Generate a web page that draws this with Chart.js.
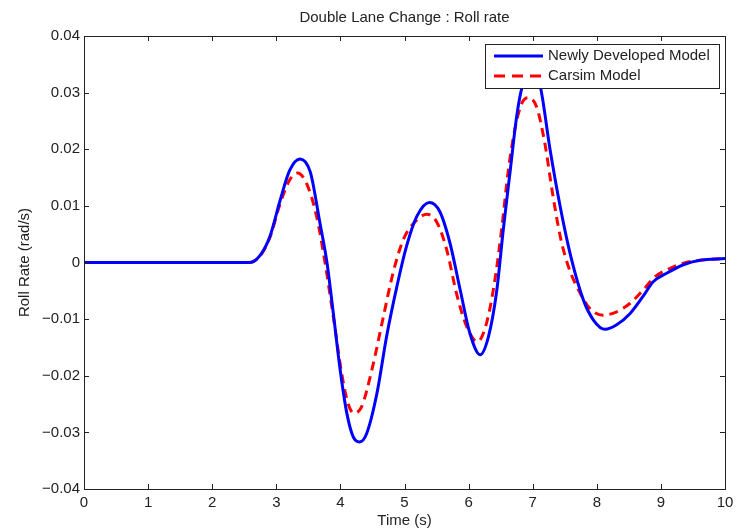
<!DOCTYPE html>
<html>
<head>
<meta charset="utf-8">
<script src="https://cdn.jsdelivr.net/npm/chart.js@4/dist/chart.umd.min.js"></script>
<style>
  html, body { margin: 0; padding: 0; background: #fff; }
  #wrap { width: 739px; height: 530px; }
</style>
</head>
<body>
<div id="wrap"><canvas id="rollRate" width="739" height="530"></canvas></div>
<script>
// roll rate samples (time in s, rate in rad/s)
const newModelTime = [0, 1, 2, 2.5, 2.59, 2.75, 2.9, 3.06, 3.21, 3.37, 3.53, 3.68, 3.79, 3.89, 3.99, 4.1, 4.2, 4.3, 4.41, 4.57, 4.72, 4.88, 5.03, 5.19, 5.39, 5.55, 5.71, 5.87, 6.02, 6.18, 6.31, 6.44, 6.54, 6.65, 6.75, 6.83, 6.98, 7.12, 7.27, 7.43, 7.6, 7.79, 7.95, 8.13, 8.31, 8.52, 8.72, 8.88, 9.09, 9.35, 9.61, 10];
const newModelRate = [0, 0, 0, 0, 0, 0.0013, 0.0046, 0.011, 0.0163, 0.0183, 0.016, 0.007, 0, -0.009, -0.0184, -0.0266, -0.0308, -0.0317, -0.0302, -0.0231, -0.0131, -0.0043, 0.0028, 0.0081, 0.0106, 0.009, 0.0034, -0.0049, -0.0125, -0.0163, -0.0131, -0.0049, 0.0057, 0.0163, 0.0258, 0.0308, 0.0345, 0.031, 0.02, 0.0098, 0.0008, -0.0066, -0.0102, -0.0118, -0.011, -0.009, -0.006, -0.0034, -0.0019, -0.0004, 0.0004, 0.0007];

const carsimTime = [0, 1, 2, 2.5, 2.59, 2.75, 2.9, 3.06, 3.21, 3.33, 3.47, 3.63, 3.76, 3.89, 4.02, 4.12, 4.21, 4.33, 4.49, 4.67, 4.82, 4.98, 5.14, 5.35, 5.5, 5.66, 5.81, 5.97, 6.14, 6.28, 6.41, 6.52, 6.62, 6.73, 6.83, 6.93, 7.06, 7.19, 7.31, 7.43, 7.55, 7.74, 7.89, 8.1, 8.31, 8.52, 8.72, 8.91, 9.09, 9.35, 9.61, 10];
const carsimRate = [0, 0, 0, 0, 0, 0.0012, 0.0044, 0.0104, 0.0146, 0.0158, 0.014, 0.0081, 0, -0.0096, -0.0196, -0.0249, -0.0266, -0.0255, -0.019, -0.0096, -0.0019, 0.004, 0.0069, 0.0085, 0.0072, 0.0022, -0.0054, -0.0113, -0.014, -0.0107, -0.0031, 0.0063, 0.0163, 0.024, 0.0281, 0.0291, 0.0275, 0.021, 0.0122, 0.0046, -0.0005, -0.0054, -0.0081, -0.0093, -0.0087, -0.0072, -0.0049, -0.0025, -0.0013, -0.0001, 0.0004, 0.0007];

const xTicks = [0, 1, 2, 3, 4, 5, 6, 7, 8, 9, 10];
const yTicks = [-0.04, -0.03, -0.02, -0.01, 0, 0.01, 0.02, 0.03, 0.04];

const FONT = '"Liberation Sans", Arial, sans-serif';
const FSIZE = 15;

function toPoints(xs, ys) {
  return xs.map((x, i) => ({ x: x, y: ys[i] }));
}

function fmtY(v) {
  if (Math.abs(v) < 1e-9) return '0';
  const s = Math.abs(v).toFixed(2);
  return (v < 0 ? '\u2212' : '') + s;
}

// box, inward ticks on all four sides, title and legend
const matlabFrame = {
  id: 'matlabFrame',
  afterDatasetsDraw(chart) {
    const ctx = chart.ctx;
    const a = chart.chartArea;
    const xs = chart.scales.x, ys = chart.scales.y;
    const tl = 5;
    ctx.save();
    ctx.strokeStyle = '#222';
    ctx.lineWidth = 1;
    ctx.setLineDash([]);
    ctx.beginPath();
    xTicks.forEach(t => {
      const px = Math.round(xs.getPixelForValue(t)) + 0.5;
      ctx.moveTo(px, a.bottom); ctx.lineTo(px, a.bottom - tl);
      ctx.moveTo(px, a.top); ctx.lineTo(px, a.top + tl);
    });
    yTicks.forEach(t => {
      const py = Math.round(ys.getPixelForValue(t)) + 0.5;
      ctx.moveTo(a.left, py); ctx.lineTo(a.left + tl, py);
      ctx.moveTo(a.right, py); ctx.lineTo(a.right - tl, py);
    });
    ctx.stroke();
    ctx.strokeRect(Math.round(a.left) + 0.5, Math.round(a.top) + 0.5,
      Math.round(a.right - a.left), Math.round(a.bottom - a.top));

    // title
    ctx.fillStyle = '#222';
    ctx.font = FSIZE + 'px ' + FONT;
    ctx.textAlign = 'center';
    ctx.textBaseline = 'middle';
    ctx.fillText('Double Lane Change : Roll rate', (a.left + a.right) / 2, 18);

    // legend
    const bx = 485, by = 44, bw = 234, bh = 44;
    ctx.fillStyle = '#fff';
    ctx.fillRect(bx, by, bw, bh);
    ctx.strokeStyle = '#222';
    ctx.strokeRect(bx + 0.5, by + 0.5, bw, bh);
    chart.data.datasets.forEach((ds, i) => {
      const ly = by + 12 + i * 20;
      ctx.strokeStyle = ds.borderColor;
      ctx.lineWidth = ds.borderWidth;
      ctx.setLineDash(ds.borderDash ? [11, 7] : []);
      ctx.beginPath();
      ctx.moveTo(bx + 9, ly);
      ctx.lineTo(bx + 58, ly);
      ctx.stroke();
      ctx.setLineDash([]);
      ctx.fillStyle = '#222';
      ctx.font = FSIZE + 'px ' + FONT;
      ctx.textAlign = 'left';
      ctx.fillText(ds.label, bx + 63, ly);
    });
    ctx.restore();
  }
};

new Chart(document.getElementById('rollRate').getContext('2d'), {
  type: 'line',
  data: {
    datasets: [{
      label: 'Newly Developed Model',
      data: toPoints(newModelTime, newModelRate),
      borderColor: '#0000ff',
      borderWidth: 3,
      pointRadius: 0,
      cubicInterpolationMode: 'monotone',
      fill: false
    }, {
      label: 'Carsim Model',
      data: toPoints(carsimTime, carsimRate),
      borderColor: '#ff0000',
      borderWidth: 3,
      borderDash: [9, 6],
      pointRadius: 0,
      cubicInterpolationMode: 'monotone',
      fill: false
    }]
  },
  options: {
    responsive: false,
    animation: false,
    layout: { padding: { top: 36, right: 14, left: 0, bottom: 0 } },
    plugins: {
      legend: { display: false },
      tooltip: { enabled: false }
    },
    scales: {
      x: {
        type: 'linear',
        min: 0,
        max: 10,
        afterBuildTicks: s => { s.ticks = xTicks.map(v => ({ value: v })); },
        afterFit: s => { s.height = 41; },
        grid: { display: false, drawTicks: false },
        border: { display: false },
        ticks: { color: '#222', font: { family: FONT, size: FSIZE }, padding: 5, maxRotation: 0 },
        title: { display: true, text: 'Time (s)', color: '#222', font: { family: FONT, size: FSIZE }, padding: { top: 0, bottom: 0 } }
      },
      y: {
        min: -0.04,
        max: 0.04,
        afterBuildTicks: s => { s.ticks = yTicks.map(v => ({ value: v })); },
        afterFit: s => { s.width = 84; },
        grid: { display: false, drawTicks: false },
        border: { display: false },
        ticks: { color: '#222', font: { family: FONT, size: FSIZE }, padding: 4, callback: v => fmtY(v) },
        title: { display: true, text: 'Roll Rate (rad/s)', color: '#222', font: { family: FONT, size: FSIZE }, padding: { top: 16, bottom: 0 } }
      }
    }
  },
  plugins: [matlabFrame]
});
</script>
</body>
</html>
